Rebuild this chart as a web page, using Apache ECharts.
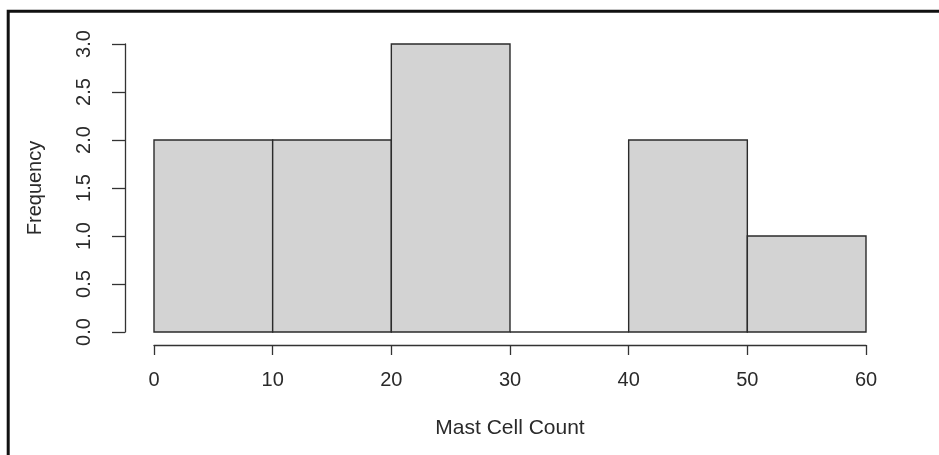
<!DOCTYPE html>
<html>
<head>
<meta charset="utf-8">
<script src="https://cdn.jsdelivr.net/npm/echarts@6/dist/echarts.min.js"></script>
<style>
html,body{margin:0;padding:0;background:#fff;}
#chart{width:939px;height:455px;}
</style>
</head>
<body>
<div id="chart"></div>
<script>
// Histogram bins (Mast Cell Count)
const binStarts = [0, 10, 20, 30, 40, 50];
const binEnds = [10, 20, 30, 40, 50, 60];
const frequencies = [2, 2, 3, 0, 2, 1];
const xTicks = [0, 10, 20, 30, 40, 50, 60];
const yTicks = ["0.0", "0.5", "1.0", "1.5", "2.0", "2.5", "3.0"];
const xTitle = "Mast Cell Count";
const yTitle = "Frequency";

const data = binStarts.map((s, i) => [s, binEnds[i], frequencies[i]]);
const FONT = "'Liberation Sans', Arial, sans-serif";
const TXT = '#2a2a2a';

const chart = echarts.init(document.getElementById('chart'), null, {renderer: 'canvas'});
chart.setOption({
  animation: false,
  backgroundColor: '#fff',
  grid: {left: 154, right: 73, top: 44, bottom: 123, containLabel: false},
  xAxis: {
    type: 'value', min: 0, max: 60, interval: 10, offset: 13,
    axisLine: {show: true, onZero: false, lineStyle: {color: '#333', width: 1.3}},
    axisTick: {show: true, length: 10, lineStyle: {color: '#333', width: 1.3}},
    axisLabel: {margin: 25, fontSize: 20, color: TXT, fontFamily: FONT,
      formatter: v => xTicks.indexOf(v) >= 0 ? String(v) : ''},
    splitLine: {show: false},
    name: xTitle, nameLocation: 'middle', nameGap: 73,
    nameTextStyle: {fontSize: 21, color: TXT, fontFamily: FONT}
  },
  yAxis: {
    type: 'value', min: 0, max: 3, interval: 0.5, offset: 29,
    axisLine: {show: true, onZero: false, lineStyle: {color: '#333', width: 1.3}},
    axisTick: {show: true, length: 13, lineStyle: {color: '#333', width: 1.3}},
    axisLabel: {rotate: 90, margin: 31, fontSize: 20, color: TXT, fontFamily: FONT,
      formatter: v => yTicks[Math.round(v * 2)]},
    splitLine: {show: false},
    name: yTitle, nameLocation: 'middle', nameGap: 80, nameRotate: 90,
    nameTextStyle: {fontSize: 20, color: TXT, fontFamily: FONT}
  },
  series: [{
    type: 'custom',
    data: data,
    encode: {x: [0, 1], y: 2},
    renderItem: function (params, api) {
      const p0 = api.coord([api.value(0), api.value(2)]);
      const p1 = api.coord([api.value(1), 0]);
      return {
        type: 'rect',
        shape: {x: p0[0], y: p0[1], width: p1[0] - p0[0], height: p1[1] - p0[1]},
        style: {fill: '#d3d3d3', stroke: '#2b2b2b', lineWidth: 1.4}
      };
    }
  }],
  graphic: [{
    type: 'polyline', z: 100,
    shape: {points: [[8.2, 600], [8.2, 11.3], [1100, 11.3]]},
    style: {fill: null, stroke: '#111', lineWidth: 3}
  }]
});
</script>
</body>
</html>
